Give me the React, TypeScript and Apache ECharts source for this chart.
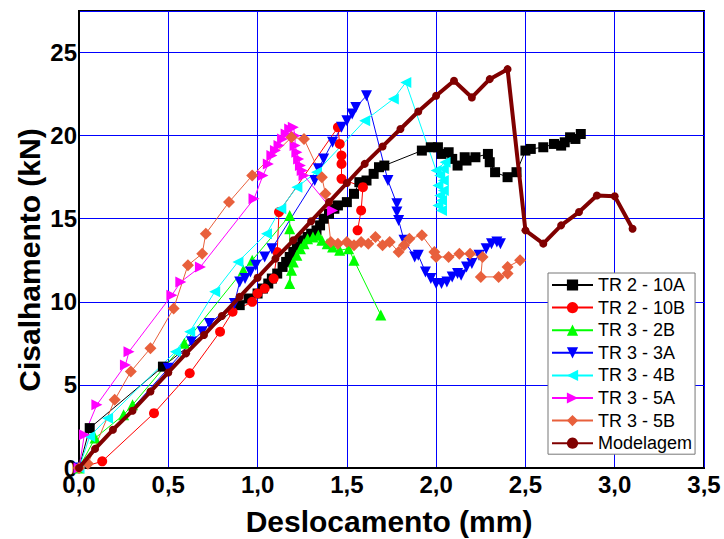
import React, { useEffect, useRef } from "react";
import * as echarts from "echarts";

const xTicks = [0, 0.5, 1, 1.5, 2, 2.5, 3, 3.5];
const yTicks = [0, 5, 10, 15, 20, 25];

const seriesNames = ["TR 2 - 10A", "TR 2 - 10B", "TR 3 - 2B", "TR 3 - 3A", "TR 3 - 4B", "TR 3 - 5A", "TR 3 - 5B", "Modelagem"];

const tr2_10A = [[0,0],[0.06,2.4],[0.47,6.1],[0.90,9.8],[0.95,10.2],[1.0,10.5],[1.03,10.8],[1.06,11.1],[1.08,11.4],[1.11,11.7],[1.14,12.1],[1.16,12.4],[1.18,12.7],[1.20,13.0],[1.22,13.3],[1.25,13.7],[1.28,13.9],[1.30,14.1],[1.33,14.3],[1.35,14.6],[1.37,15.0],[1.40,15.3],[1.43,15.6],[1.45,15.8],[1.50,16.0],[1.54,16.5],[1.57,17.2],[1.61,17.3],[1.65,17.7],[1.68,18.1],[1.71,18.2],[1.92,19.1],[1.97,19.3],[2.01,19.3],[2.03,18.9],[2.07,19.0],[2.09,18.6],[2.12,18.2],[2.16,18.7],[2.17,18.5],[2.22,18.7],[2.29,18.9],[2.30,18.4],[2.33,17.8],[2.40,17.5],[2.45,17.8],[2.50,19.1],[2.53,19.2],[2.60,19.3],[2.66,19.5],[2.70,19.4],[2.72,19.6],[2.75,19.9],[2.78,19.8],[2.81,20.1]];

const tr2_10B = [[0,0],[0.13,0.4],[0.42,3.3],[0.62,5.7],[0.79,8.2],[0.86,9.4],[0.97,10.0],[1.0,10.5],[1.04,10.8],[1.09,11.4],[1.11,13.0],[1.12,15.4],[1.45,20.5],[1.46,19.5],[1.47,18.8],[1.47,18.3],[1.47,17.4],[1.59,16.9],[1.58,15.5],[1.56,14.3]];

const tr3_2B = [[0,0],[0.09,1.8],[0.25,3.2],[0.30,3.8],[0.59,7.5],[0.92,11.9],[0.97,12.5],[1.18,15.2],[1.18,14.4],[1.18,11.1],[1.19,11.9],[1.20,12.4],[1.22,12.8],[1.24,13.2],[1.26,13.5],[1.28,13.8],[1.31,13.9],[1.34,14.0],[1.36,13.7],[1.39,13.5],[1.42,13.3],[1.46,13.1],[1.51,13.2],[1.54,12.5],[1.69,9.2]];

const tr3_3A = [[0,0],[0.50,6.0],[0.63,7.6],[0.69,8.2],[0.73,8.7],[0.87,9.9],[0.90,11.2],[0.93,11.4],[0.96,11.8],[0.99,12.2],[1.04,12.7],[1.08,13.2],[1.32,17.3],[1.34,18.0],[1.37,18.6],[1.42,19.6],[1.47,20.5],[1.50,20.9],[1.53,21.3],[1.55,21.7],[1.61,22.4],[1.73,17.3],[1.78,15.9],[1.78,15.4],[1.79,14.9],[1.82,13.7],[1.88,12.7],[1.90,12.8],[1.94,11.8],[1.97,11.4],[2.0,11.1],[2.03,11.1],[2.06,11.2],[2.09,11.5],[2.12,11.7],[2.14,11.6],[2.17,12.1],[2.20,12.3],[2.24,12.8],[2.28,13.2],[2.31,13.5],[2.34,13.6],[2.36,13.5]];

const tr3_4B = [[0,0],[0.06,1.9],[0.16,3.0],[0.54,7.0],[0.62,8.2],[0.76,10.6],[0.89,12.4],[1.05,14.1],[1.13,15.6],[1.22,16.9],[1.33,17.8],[1.60,20.9],[1.76,22.2],[1.83,23.2],[2.0,17.9],[2.05,18.4],[2.04,18.0],[2.02,17.6],[2.04,17.3],[2.01,17.0],[2.04,16.7],[2.02,16.4],[2.03,16.1],[2.01,15.8],[2.03,15.5]];

const tr3_5A = [[0,0],[0.03,2.0],[0.10,3.8],[0.26,6.2],[0.28,7.0],[0.52,10.4],[0.57,11.2],[0.68,12.1],[0.98,16.2],[1.03,17.6],[1.06,18.3],[1.08,18.8],[1.10,19.1],[1.12,19.4],[1.14,19.8],[1.16,20.1],[1.18,20.4],[1.20,20.5],[1.21,20.0],[1.21,19.4],[1.22,19.0],[1.23,18.6],[1.24,18.2],[1.25,17.9],[1.26,17.6],[1.42,15.5]];

const tr3_5B = [[0,0],[0.05,0.25],[0.20,4.1],[0.29,5.8],[0.40,7.2],[0.53,9.6],[0.61,12.2],[0.69,12.9],[0.71,14.1],[0.84,16.0],[0.97,17.6],[1.19,19.9],[1.26,19.8],[1.36,17.5],[1.38,16.5],[1.41,13.6],[1.45,13.5],[1.50,13.6],[1.54,13.4],[1.58,13.6],[1.62,13.5],[1.66,13.9],[1.70,13.4],[1.74,13.6],[1.79,13.0],[1.82,13.4],[1.85,13.8],[1.92,14.0],[1.99,13.0],[2.0,12.7],[2.07,12.7],[2.13,12.9],[2.19,12.9],[2.26,12.7],[2.25,11.5],[2.35,11.5],[2.40,11.7],[2.40,12.1],[2.47,12.5]];

const modelagem = [[0,0],[0.09,1.15],[0.19,2.3],[0.30,3.45],[0.40,4.6],[0.50,5.75],[0.60,6.9],[0.70,8.0],[0.80,9.15],[0.90,10.3],[1.0,11.45],[1.1,12.6],[1.2,13.7],[1.3,14.85],[1.4,16.0],[1.5,17.15],[1.6,18.3],[1.7,19.35],[1.8,20.4],[1.9,21.45],[2.0,22.4],[2.1,23.3],[2.2,22.3],[2.3,23.4],[2.4,24.0],[2.5,14.3],[2.6,13.5],[2.7,14.6],[2.8,15.4],[2.9,16.4],[3.0,16.35],[3.1,14.4]];

const FONT = '"Liberation Sans", Arial, sans-serif';

function mk(name: string, data: number[][], color: string, symbol: string, size: number, rotate = 0, lw = 1, z = 2) {
  return {
    name,
    type: "line",
    data,
    symbol,
    symbolSize: size,
    symbolRotate: rotate,
    showAllSymbol: true,
    z,
    lineStyle: { color, width: lw },
    itemStyle: { color, borderWidth: 0 },
  };
}

export default function App() {
  const ref = useRef<HTMLDivElement>(null);
  useEffect(() => {
    if (!ref.current) return;
    const chart = echarts.init(ref.current, undefined, { renderer: "svg" });
    const fmtX = (v: number) => (xTicks.includes(v) ? v.toFixed(1).replace(".", ",") : "");
    const fmtY = (v: number) => (yTicks.includes(v) ? String(v) : "");
    chart.setOption({
      animation: false,
      backgroundColor: "#fff",
      grid: { left: 79, right: 20, top: 11, bottom: 71, show: true, borderColor: "#000", borderWidth: 2 },
      xAxis: {
        type: "value", min: 0, max: 3.5, interval: 0.5,
        axisLine: { lineStyle: { color: "#000", width: 2 } },
        axisTick: { show: false },
        splitLine: { lineStyle: { color: "#0000ff", width: 1 } },
        axisLabel: { formatter: fmtX, color: "#000", fontSize: 24, fontWeight: "bold", fontFamily: FONT, margin: 4 },
      },
      yAxis: {
        type: "value", min: 0, max: 27.5, interval: 5,
        axisLine: { lineStyle: { color: "#000", width: 2 } },
        axisTick: { show: false },
        splitLine: { lineStyle: { color: "#0000ff", width: 1 } },
        axisLabel: { formatter: fmtY, showMaxLabel: false, color: "#000", fontSize: 24, fontWeight: "bold", fontFamily: FONT, margin: 2 },
      },
      legend: {
        data: seriesNames,
        orient: "vertical",
        left: 548, top: 273,
        itemWidth: 41, itemHeight: 14, itemGap: 4.6,
        padding: [3, 3, 2, 3],
        backgroundColor: "#fff",
        borderColor: "#777", borderWidth: 1, borderRadius: 0,
        textStyle: { fontSize: 18, fontFamily: FONT, color: "#000" },
      },
      graphic: [
        { type: "text", x: 389, y: 521, style: { text: "Deslocamento (mm)", font: `bold 30px ${FONT}`, fill: "#000", align: "center", verticalAlign: "middle" } },
        { type: "text", x: 29, y: 260, rotation: Math.PI / 2, style: { text: "Cisalhamento (kN)", font: `bold 30px ${FONT}`, fill: "#000", align: "center", verticalAlign: "middle" } },
      ],
      series: [
        mk(seriesNames[0], tr2_10A, "#000000", "rect", 10),
        mk(seriesNames[1], tr2_10B, "#ff0000", "circle", 10),
        mk(seriesNames[2], tr3_2B, "#00ff00", "triangle", 11),
        mk(seriesNames[3], tr3_3A, "#0000ff", "triangle", 11, 180),
        mk(seriesNames[4], tr3_4B, "#00ffff", "triangle", 11, 90),
        mk(seriesNames[5], tr3_5A, "#ff00ff", "triangle", 11, -90),
        mk(seriesNames[6], tr3_5B, "#e8603c", "diamond", 12),
        mk(seriesNames[7], modelagem, "#800000", "circle", 8, 0, 4, 5),
      ],
    });
    return () => chart.dispose();
  }, []);
  return <div ref={ref} style={{ position: "fixed", left: 0, top: 0, width: 724, height: 539 }} />;
}
